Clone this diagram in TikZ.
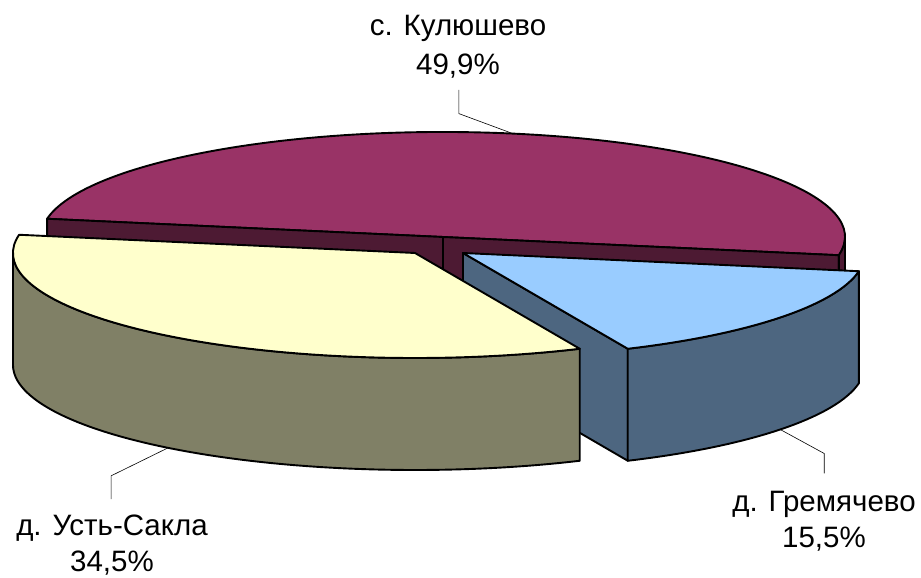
\documentclass[tikz,border=0pt]{standalone}
\usepackage{fontspec}
\setmainfont{Liberation Sans}
\usetikzlibrary{calc}
\definecolor{kulTop}{HTML}{993366}
\definecolor{kulSide}{HTML}{4D1A33}
\definecolor{ustTop}{HTML}{FFFFCC}
\definecolor{ustSide}{HTML}{808066}
\definecolor{greTop}{HTML}{99CCFF}
\definecolor{greSide}{HTML}{4D6680}
\begin{document}
\begin{tikzpicture}[x=1pt, y=1pt,
    piece/.style={draw=black, line width=1.9pt, line join=round, x radius=402pt, y radius=105pt},
    leader/.style={draw=black, line width=0.6pt},
    lbl/.style={align=center, inner sep=0pt, font=\fontsize{29.5}{36}\selectfont}]
  \useasboundingbox (0,0) rectangle (921,578);

  \coordinate (M) at (443,341);
  \coordinate (Y) at (415,325);
  \coordinate (B) at (463,325);

  \draw[piece, fill=kulTop] (M) -- ($(M)+(-10:402pt and 105pt)$)
    arc[start angle=-10, end angle=170] -- cycle;
  \draw[piece, fill=kulSide] (M) -- ($(M)+(170:402pt and 105pt)$) -- ++(0,-112)
    -- ($(M)+(0,-112)$) -- cycle;
  \draw[piece, fill=kulSide] (M) -- ($(M)+(-10:402pt and 105pt)$) -- ++(0,-112)
    -- ($(M)+(0,-112)$) -- cycle;
  \draw[piece, fill=kulSide] ($(M)+(-10:402pt and 105pt)$)
    arc[start angle=-10, end angle=0] -- ++(0,-112)
    arc[start angle=0, end angle=-10] -- cycle;

  \draw[piece, fill=greSide] (B) -- ($(B)+(294.2:402pt and 105pt)$) -- ++(0,-112)
    -- ($(B)+(0,-112)$) -- cycle;
  \draw[piece, fill=greSide] ($(B)+(294.2:402pt and 105pt)$)
    arc[start angle=294.2, end angle=350] -- ++(0,-112)
    arc[start angle=350, end angle=294.2] -- cycle;
  \draw[piece, fill=greTop] (B) -- ($(B)+(294.2:402pt and 105pt)$)
    arc[start angle=294.2, end angle=350] -- cycle;

  \draw[piece, fill=ustSide] ($(Y)+(180:402pt and 105pt)$)
    arc[start angle=180, end angle=294.2] -- ++(0,-112)
    arc[start angle=294.2, end angle=180] -- cycle;
  \draw[piece, fill=ustTop] (Y) -- ($(Y)+(170:402pt and 105pt)$)
    arc[start angle=170, end angle=294.2] -- cycle;

  \node[lbl, anchor=base] (L1) at (458,503) {с. Кулюшево\\[3pt]49,9\%};
  \node[lbl, anchor=base] (L2) at (112,6) {д. Усть-Сакла\\34,5\%};
  \node[lbl, anchor=base] (L3) at (824,30) {д. Гремячево\\15,5\%};

  \coordinate (P1) at ($(M)+(80:402pt and 105pt)$);
  \coordinate (P2) at ($(Y)+(232.1:402pt and 105pt)+(0,-112)$);
  \coordinate (P3) at ($(B)+(322.1:402pt and 105pt)+(0,-112)$);

  \draw[leader, shorten >=11pt] (P1) -- ++(-54,20) coordinate (K1) -- (K1 |- L1.south);
  \draw[leader, shorten >=16pt] (P2) -- ++(-57,-28) coordinate (K2) -- (K2 |- L2.north);
  \draw[leader, shorten >=18pt] (P3) -- ++(44,-24) coordinate (K3) -- (K3 |- L3.north);
\end{tikzpicture}
\end{document}
